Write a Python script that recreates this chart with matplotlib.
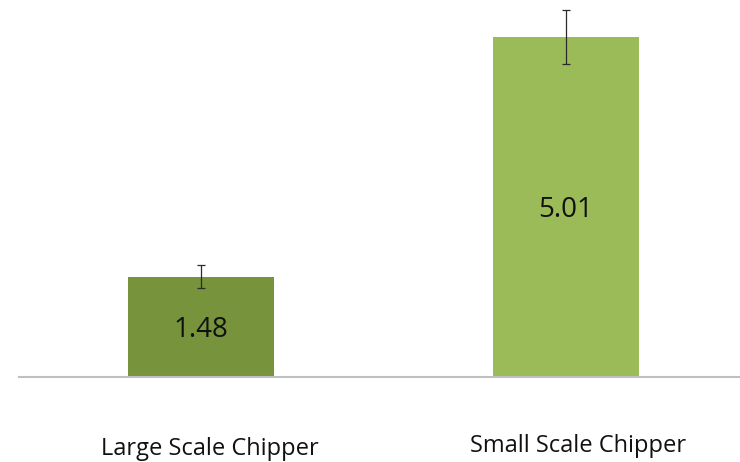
import matplotlib
matplotlib.use("Agg")
import matplotlib.pyplot as plt
from matplotlib.transforms import blended_transform_factory

# chart data
categories = ["Large Scale Chipper", "Small Scale Chipper"]
values = [1.48, 5.01]
errors = [0.17, 0.40]
colors = ["#77933C", "#9BBB59"]

plt.rcParams["font.family"] = ["Open Sans", "DejaVu Sans"]

W, H = 740, 462
fig = plt.figure(figsize=(W / 100, H / 100), dpi=100)
# axes box in pixels: baseline at y=377 from top, left edge x=19
ax = fig.add_axes([19 / W, (H - 377) / H, (748 - 19) / W, 377 / H])

x = range(len(categories))
ax.bar(x, values, width=0.4, color=colors, yerr=errors,
       error_kw=dict(ecolor="#2a2a2a", elinewidth=0.9, capsize=3, capthick=0.9))

ax.set_xlim(-0.5, 1.5)
ax.set_ylim(0, 377 / 67.86)

# value labels centred in each bar (digits centred, so baseline shifted down)
for i, v in enumerate(values):
    ax.annotate("{:.2f}".format(v), (i, v / 2), xytext=(0, -7.2),
                textcoords="offset points", ha="center", va="baseline",
                fontsize=20, color="#111111")

# category labels under the axis
trans = blended_transform_factory(ax.transData, fig.transFigure)
label_offsets = [0.025, 0.033]
label_base = [(H - 455) / H, (H - 452) / H]
for i, name in enumerate(categories):
    ax.text(i + label_offsets[i], label_base[i], name, transform=trans,
            ha="center", va="baseline", fontsize=17, color="#111111")

for side in ["top", "right", "left"]:
    ax.spines[side].set_visible(False)
ax.spines["bottom"].set_color("#BFBFBF")
ax.spines["bottom"].set_linewidth(1.5)
ax.set_xticks([])
ax.set_yticks([])

fig.savefig("out.png", dpi=100)
